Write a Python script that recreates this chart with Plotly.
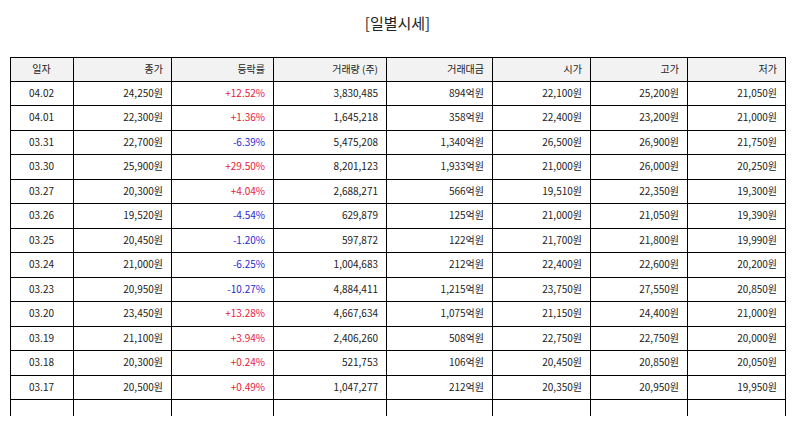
import plotly.graph_objects as go

headers = ["일자", "종가", "등락률", "거래량 (주)", "거래대금", "시가", "고가", "저가"]
dates = ["04.02", "04.01", "03.31", "03.30", "03.27", "03.26", "03.25", "03.24",
         "03.23", "03.20", "03.19", "03.18", "03.17"]
close = [24250, 22300, 22700, 25900, 20300, 19520, 20450, 21000, 20950, 23450, 21100, 20300, 20500]
change = [12.52, 1.36, -6.39, 29.50, 4.04, -4.54, -1.20, -6.25, -10.27, 13.28, 3.94, 0.24, 0.49]
volume = [3830485, 1645218, 5475208, 8201123, 2688271, 629879, 597872, 1004683,
          4884411, 4667634, 2406260, 521753, 1047277]
amount = [894, 358, 1340, 1933, 566, 125, 122, 212, 1215, 1075, 508, 106, 212]
open_ = [22100, 22400, 26500, 21000, 19510, 21000, 21700, 22400, 23750, 21150, 22750, 20450, 20350]
high = [25200, 23200, 26900, 26000, 22350, 21050, 21800, 22600, 27550, 24400, 22750, 20850, 20950]
low = [21050, 21000, 21750, 20250, 19300, 19390, 19990, 20200, 20850, 21000, 20000, 20050, 19950]

RED = "#e8203a"
BLUE = "#2a2ad0"


def won(vals):
    return [f"{v:,}원" for v in vals] + [""]


cols = [
    dates + [""],
    won(close),
    [f"{c:+.2f}%" for c in change] + [""],
    [f"{v:,}" for v in volume] + [""],
    [f"{a:,}억원" for a in amount] + [""],
    won(open_),
    won(high),
    won(low),
]

change_colors = [RED if c > 0 else BLUE for c in change] + ["#222222"]
font_colors = ["#222222", "#222222", change_colors] + ["#222222"] * 5

fig = go.Figure(
    go.Table(
        columnwidth=[63, 98, 102, 113, 106, 98, 97, 98],
        header=dict(
            values=headers,
            fill_color="#f2f2f2",
            line=dict(color="black", width=1),
            align=["center"] + ["right"] * 7,
            font=dict(family="Noto Sans CJK KR", size=10, color="#222222"),
            height=24,
        ),
        cells=dict(
            values=cols,
            fill_color="white",
            line=dict(color="black", width=1),
            align=["center"] + ["right"] * 7,
            font=dict(family="Noto Sans CJK KR", size=10, color=font_colors),
            height=24.5,
        ),
    )
)

fig.update_layout(
    width=779,
    height=410,
    margin=dict(l=2, r=2, t=49, b=2),
    paper_bgcolor="white",
    title=dict(
        text="[일별시세]",
        x=0.5,
        y=0.975,
        xanchor="center",
        font=dict(family="Noto Sans CJK KR", size=15, color="#222222"),
    ),
)

fig.write_html("out.html")
